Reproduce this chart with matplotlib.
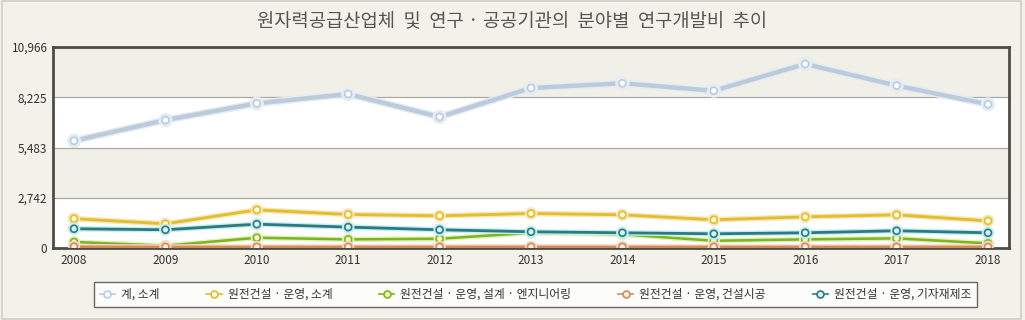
import matplotlib
matplotlib.use("Agg")
import matplotlib.pyplot as plt
import matplotlib.patheffects as pe
from matplotlib.patches import Rectangle

plt.rcParams['font.family'] = ['Noto Sans CJK KR', 'DejaVu Sans']

years = [2008, 2009, 2010, 2011, 2012, 2013, 2014, 2015, 2016, 2017, 2018]

total = [5850, 6980, 7890, 8400, 7150, 8730, 8985, 8580, 10040, 8860, 7840]
ops_total = [1600, 1320, 2080, 1830, 1755, 1885, 1810, 1540, 1700, 1810, 1480]
design_eng = [330, 125, 560, 470, 505, 830, 745, 395, 470, 525, 255]
construction = [70, 60, 60, 60, 60, 60, 60, 60, 60, 60, 60]
manufacturing = [1050, 995, 1300, 1140, 995, 885, 830, 775, 830, 940, 830]

labels = ['계, 소계', '원전건설 · 운영, 소계', '원전건설 · 운영, 설계 · 엔지니어링',
          '원전건설 · 운영, 건설시공', '원전건설 · 운영, 기자재제조']
y_ticks = [0, 2742, 5483, 8225, 10966]
title = '원자력공급산업체  및  연구 · 공공기관의  분야별  연구개발비  추이'

series = [total, ops_total, design_eng, construction, manufacturing]
line_colors = ['#bccbdc', '#e2bd2c', '#7cb51c', '#d48a55', '#2a7a80']
glow_colors = ['#e4ecf4', '#f6e6b8', '#e3f0c0', '#f6d6c6', '#c6eef2']
face_colors = ['#ffffff', '#fffbd6', '#f8f6c4', '#fdeee4', '#d2f3f7']
widths = [3.2, 2.0, 1.8, 1.8, 2.0]

bg = '#f3f2ea'
fig = plt.figure(figsize=(10.25, 3.2), dpi=100, facecolor=bg)
fig.patches.append(Rectangle((0.002, 0.004), 0.994, 0.992, transform=fig.transFigure,
                             fill=False, edgecolor='#cfcfc4', lw=1.2))
ax = fig.add_axes([53/1025, 1-248/320, 956/1025, 201/320])
ax.set_facecolor('white')

# alternating bands
for i in range(len(y_ticks) - 1):
    c = '#f0efe8' if i % 2 == 1 else 'white'
    ax.axhspan(y_ticks[i], y_ticks[i+1], color=c, zorder=0, lw=0)
for t in y_ticks[1:-1]:
    ax.axhline(t, color='#a9a9a4', lw=0.9, zorder=1)

handles = []
for vals, lc, gc, fc, lw, lab in zip(series, line_colors, glow_colors, face_colors, widths, labels):
    h, = ax.plot(years, vals, color=lc, lw=lw, marker='o', ms=5, mfc=fc, mec=lc, mew=1.2,
                 zorder=3, label=lab,
                 path_effects=[pe.Stroke(linewidth=lw + 2, foreground=gc), pe.Normal()])
    handles.append(h)

ax.set_xlim(years[0] - 0.23, years[-1] + 0.23)
ax.set_ylim(0, y_ticks[-1])
ax.set_xticks(years)
ax.set_yticks(y_ticks)
ax.set_yticklabels(['{:,}'.format(v) for v in y_ticks])
ax.tick_params(length=0, labelsize=8.5, colors='#333333', pad=4)
for s in ax.spines.values():
    s.set_color('#4d4d48')
    s.set_linewidth(2)

fig.text(0.5, 1-22/320, title, ha='center', va='center', fontsize=13.5, color='#555555')

leg = fig.legend(handles=handles, labels=labels, loc='center', ncol=5, mode='expand',
                 bbox_to_anchor=(88/1025, 1-309/320, 895/1025, 29/320),
                 fontsize=8.5, frameon=True, fancybox=False, handlelength=1.3,
                 handletextpad=0.5, borderpad=0.5)
leg.get_frame().set_edgecolor('#444444')
leg.get_frame().set_linewidth(1.0)
for t in leg.get_texts():
    t.set_color('#333333')
for lh in leg.legend_handles:
    lh.set_path_effects([])
    lh.set_linewidth(1.2)
    lh.set_markersize(5)

fig.savefig('out.png', dpi=100, facecolor=bg)
